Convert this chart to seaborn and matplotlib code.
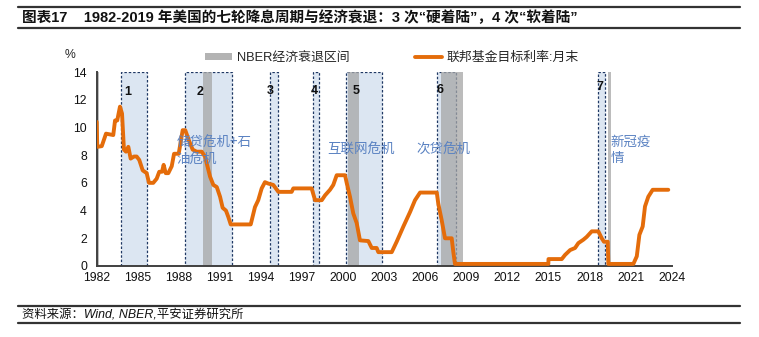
import matplotlib
matplotlib.use("Agg")
import matplotlib.pyplot as plt
import matplotlib.patches as mpatches
from matplotlib.lines import Line2D
import numpy as np
import pandas as pd
import seaborn as sns

# Fed funds target rate (month end) (x in chart years)
RATE_YEARS = [
    1982.00, 1982.04, 1982.37, 1982.68, 1983.21, 1983.34, 1983.50, 1983.70, 1983.85, 1983.99,
    1984.14, 1984.31, 1984.48, 1984.72, 1984.92, 1985.11, 1985.36, 1985.65, 1985.82, 1986.13,
    1986.38, 1986.57, 1986.77, 1986.89, 1987.04, 1987.23, 1987.48, 1987.65, 1987.99, 1988.28,
    1988.47, 1988.72, 1989.01, 1989.30, 1989.67, 1989.91, 1990.28, 1990.52, 1990.77, 1991.01,
    1991.20, 1991.44, 1991.61, 1991.79, 1993.25, 1993.56, 1993.80, 1994.05, 1994.29, 1994.53,
    1994.90, 1995.27, 1996.24, 1996.36, 1997.70, 1997.95, 1998.44, 1998.68, 1999.04, 1999.28,
    1999.53, 2000.14, 2000.26, 2000.50, 2000.74, 2000.99, 2001.23, 2001.84, 2002.09, 2002.45,
    2002.57, 2003.55, 2003.91, 2004.40, 2004.89, 2005.25, 2005.62, 2006.84, 2006.95, 2007.20,
    2007.44, 2007.93, 2008.05, 2008.17, 2014.99, 2015.00, 2015.97, 2016.21, 2016.58, 2016.94,
    2017.18, 2017.55, 2017.79, 2018.16, 2018.64, 2018.89, 2019.05, 2019.33, 2019.37, 2021.20,
    2021.45, 2021.64, 2021.88, 2022.05, 2022.29, 2022.61, 2023.75,
]
RATE_VALUES = [
    10.4, 8.6, 8.65, 9.55, 9.45, 10.5, 10.5, 11.5, 11.0, 8.4,
    8.25, 8.6, 7.75, 7.9, 7.9, 7.65, 6.9, 6.7, 6.0, 6.0,
    6.3, 6.8, 6.8, 7.3, 6.7, 6.7, 7.2, 8.1, 8.1, 9.8,
    9.8, 9.1, 8.4, 8.25, 8.25, 7.9, 6.45, 5.85, 5.7, 5.0,
    4.2, 4.0, 3.55, 3.0, 3.0, 4.25, 4.75, 5.6, 6.05, 5.95,
    5.85, 5.35, 5.35, 5.6, 5.6, 4.75, 4.75, 5.1, 5.5, 5.85,
    6.55, 6.55, 6.0, 5.0, 3.8, 3.1, 1.85, 1.8, 1.3, 1.3,
    1.0, 1.0, 1.75, 2.85, 3.9, 4.75, 5.3, 5.3, 4.5, 3.3,
    2.0, 2.0, 1.0, 0.15, 0.15, 0.5, 0.5, 0.8, 1.15, 1.3,
    1.65, 1.9, 2.1, 2.5, 2.5, 2.0, 1.75, 1.75, 0.15, 0.15,
    0.7, 2.25, 2.85, 4.3, 5.0, 5.5, 5.5,
]

# seven easing cycles (dashed boxes) and NBER recessions (grey bands)
CUT_START = [1983.75, 1988.43, 1994.67, 1997.82, 2000.21, 2006.86, 2018.64]
CUT_END = [1985.67, 1991.86, 1995.27, 1998.26, 2002.82, 2008.22, 2019.13]
CUT_LABELS = ["1", "2", "3", "4", "5", "6", "7"]
CUT_LABEL_X = [1984.27, 1989.55, 1994.66, 1997.87, 2000.92, 2007.08, 2018.77]
CUT_LABEL_Y = [12.55, 12.55, 12.6, 12.6, 12.6, 12.7, 12.95]

REC_START = [1982.0, 1989.79, 2000.38, 2007.15, 2019.38]
REC_END = [1982.17, 1990.42, 2001.16, 2008.73, 2019.55]

CRISIS_TEXT = ["储贷危机+石\n油危机", "互联网危机", "次贷危机", "新冠疫\n情"]
CRISIS_X = [1987.84, 1998.87, 2005.37, 2019.52]
CRISIS_Y = [8.26, 8.37, 8.37, 8.38]

X_TICKS = list(range(1982, 2025, 3))
Y_TICKS = list(range(0, 15, 2))

TITLE = "图表17    1982-2019 年美国的七轮降息周期与经济衰退：3 次“硬着陆”，4 次“软着陆”"
SOURCE = "资料来源：Wind, NBER,平安证券研究所"

ORANGE = "#E46C0A"
BOX_FILL = "#DCE6F2"
BOX_EDGE = "#1F3864"
REC_GREY = "#A6A6A6"
BLUE_TXT = "#5A82C2"

sns.set_style("white")
FONTS = ["Liberation Sans", "Noto Sans CJK SC", "DejaVu Sans"]
plt.rcParams["font.family"] = FONTS
plt.rcParams["axes.unicode_minus"] = False


def main() -> None:
    fig = plt.figure(figsize=(7.59, 3.37), dpi=100)
    ax = fig.add_axes([96.7 / 759, 1 - 266 / 337, (671.7 - 96.7) / 759, (266 - 72) / 337])

    for s, e in zip(CUT_START, CUT_END):
        ax.add_patch(mpatches.Rectangle((s, 0), e - s, 14, facecolor=BOX_FILL,
                                        edgecolor=BOX_EDGE, linestyle=(0, (2, 1.5)),
                                        linewidth=0.9, zorder=1))
    for s, e in zip(REC_START, REC_END):
        ax.axvspan(s, e, ymin=0, ymax=1, facecolor=REC_GREY, alpha=0.75,
                   edgecolor="none", zorder=2)

    df = pd.DataFrame({"year": RATE_YEARS, "rate": RATE_VALUES})
    sns.lineplot(data=df, x="year", y="rate", ax=ax, color=ORANGE, linewidth=2.8,
                 sort=False, zorder=4)

    for lab, x, y in zip(CUT_LABELS, CUT_LABEL_X, CUT_LABEL_Y):
        ax.text(x, y, lab, ha="center", va="center", fontsize=9, fontweight="bold",
                color="#111111", zorder=5)
    for t, x, y in zip(CRISIS_TEXT, CRISIS_X, CRISIS_Y):
        ax.text(x, y, t, ha="left", va="center", fontsize=9.7, color=BLUE_TXT,
                linespacing=1.25, zorder=5, family=["Noto Sans CJK SC", "DejaVu Sans"])

    ax.set_xlim(1982, 2024)
    ax.set_ylim(0, 14)
    ax.set_xticks(X_TICKS)
    ax.set_yticks(Y_TICKS)
    ax.set_xlabel("")
    ax.set_ylabel("")
    ax.tick_params(axis="x", direction="in", length=4, width=1, colors="#404040",
                   labelcolor="#111111", labelsize=8.8, pad=4)
    ax.tick_params(axis="y", direction="out", length=4, width=1, colors="#404040",
                   labelcolor="#111111", labelsize=8.8, pad=3)
    for side in ["top", "right"]:
        ax.spines[side].set_visible(False)
    for side in ["left", "bottom"]:
        ax.spines[side].set_color("#404040")
        ax.spines[side].set_linewidth(1.4)

    handles = [
        mpatches.Patch(facecolor="#B3B3B3", edgecolor="none", label="NBER经济衰退区间"),
        Line2D([0], [0], color=ORANGE, linewidth=2.8, label="联邦基金目标利率:月末"),
    ]
    fig.legend(handles=handles, loc="center left", bbox_to_anchor=(205 / 759, 1 - 58 / 337),
               ncol=2, frameon=False, fontsize=9.3, handlelength=2.1, handleheight=0.45,
               handletextpad=0.4, columnspacing=5.0, borderaxespad=0, borderpad=0)

    fig.text(70 / 759, 1 - 55 / 337, "%", ha="center", va="center", fontsize=8.8)

    # header / footer rules
    for y, lw in [(7, 1.6), (28, 1.6), (306, 1.6), (322.5, 1.6)]:
        fig.add_artist(Line2D([18 / 759, 740 / 759], [1 - y / 337, 1 - y / 337],
                              color="#333333", linewidth=lw))
    fig.text(22 / 759, 1 - 17.5 / 337, TITLE, ha="left", va="center", fontsize=10.5,
             fontweight="bold", color="#111111")
    fig.text(22 / 759, 1 - 314.5 / 337, SOURCE, ha="left", va="center", fontsize=8.9,
             style="italic", color="#111111")

    fig.savefig("out.png", dpi=100)


if __name__ == "__main__":
    main()
